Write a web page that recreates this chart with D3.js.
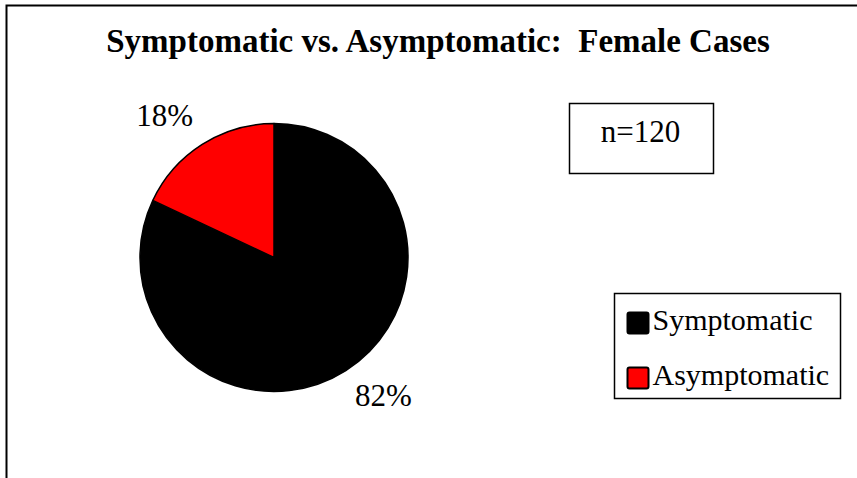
<!DOCTYPE html>
<html>
<head>
<meta charset="utf-8">
<script src="https://cdn.jsdelivr.net/npm/d3@7"></script>
<style>
  body { margin: 0; background: #fff; }
  svg { display: block; }
</style>
</head>
<body>
<div id="chart"></div>
<script>
// data
const categories = ["Symptomatic", "Asymptomatic"];
const values = [82, 18];
const pctLabels = ["82%", "18%"];
const colors = ["#000000", "#ff0000"];
const sampleNote = "n=120";
const title = "Symptomatic vs. Asymptomatic:  Female Cases";

const width = 857, height = 478;
const serif = '"Liberation Serif", "Times New Roman", serif';

const svg = d3.select("#chart").append("svg")
    .attr("width", width)
    .attr("height", height)
    .style("font-family", serif);

// outer frame (right and bottom are cut off in the original)
svg.append("path")
    .attr("d", `M6.5,${height} V5.5 H${width}`)
    .attr("fill", "none")
    .attr("stroke", "#000")
    .attr("stroke-width", 2);

svg.append("text")
    .attr("x", 438)
    .attr("y", 52)
    .attr("text-anchor", "middle")
    .style("font-family", serif)
    .style("font-size", "33px")
    .style("font-weight", "bold")
    .style("white-space", "pre")
    .text(title);

// pie
const cx = 274, cy = 257.5, radius = 134;
const color = d3.scaleOrdinal().domain(categories).range(colors);

const pie = d3.pie()
    .sort(null)
    .value(d => d.value);

const rows = categories.map((c, i) => ({ name: c, value: values[i], label: pctLabels[i] }));
// first slice runs clockwise from 12 o'clock
const arcs = pie(rows);

const arc = d3.arc().innerRadius(0).outerRadius(radius);

const g = svg.append("g")
    .attr("transform", `translate(${cx},${cy})`);

g.selectAll("path")
    .data(arcs)
    .enter()
    .append("path")
    .attr("d", arc)
    .attr("fill", d => color(d.data.name))
    .attr("stroke", "#000")
    .attr("stroke-width", 1.5)
    .attr("stroke-linejoin", "round");

// percentage labels outside the pie
const labelArc = d3.arc().innerRadius(radius + 31).outerRadius(radius + 31);
const labelNudge = { "Symptomatic": [21, -2], "Asymptomatic": [-21, -3] };
g.selectAll("text.pct")
    .data(arcs)
    .enter()
    .append("text")
    .attr("class", "pct")
    .attr("transform", d => {
        const p = labelArc.centroid(d);
        const n = labelNudge[d.data.name];
        return `translate(${p[0] + n[0]},${p[1] + n[1]})`;
    })
    .attr("text-anchor", "middle")
    .attr("dy", "0.35em")
    .style("font-family", serif)
    .style("font-size", "31px")
    .text(d => d.data.label);

// n= box
svg.append("rect")
    .attr("x", 569.5).attr("y", 103.5)
    .attr("width", 144).attr("height", 70)
    .attr("fill", "#fff")
    .attr("stroke", "#000")
    .attr("stroke-width", 1.5);
svg.append("text")
    .attr("x", 640.5).attr("y", 142)
    .attr("text-anchor", "middle")
    .style("font-family", serif)
    .style("font-size", "31px")
    .text(sampleNote);

// legend
const legend = svg.append("g").attr("transform", "translate(614.5,293.5)");
legend.append("rect")
    .attr("width", 226).attr("height", 105)
    .attr("fill", "#fff")
    .attr("stroke", "#000")
    .attr("stroke-width", 1.5);

const item = legend.selectAll("g.item")
    .data(categories)
    .enter()
    .append("g")
    .attr("class", "item")
    .attr("transform", (d, i) => `translate(13,${19 + i * 55})`);

item.append("rect")
    .attr("width", 21).attr("height", 21)
    .attr("rx", 2)
    .attr("fill", d => color(d))
    .attr("stroke", "#000")
    .attr("stroke-width", 2);

item.append("text")
    .attr("x", 25)
    .attr("y", 17)
    .style("font-family", serif)
    .style("font-size", "30px")
    .text(d => d);
</script>
</body>
</html>
